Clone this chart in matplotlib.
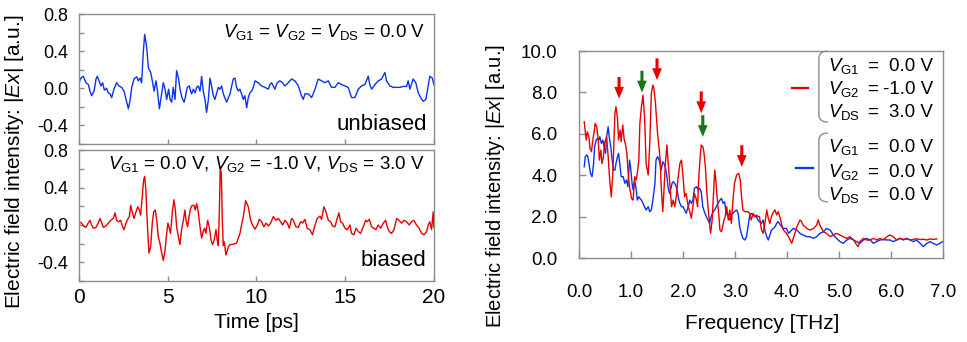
import numpy as np
import matplotlib
matplotlib.use('Agg')
import matplotlib.pyplot as plt
from matplotlib.path import Path
from matplotlib.patches import PathPatch

plt.rcParams['font.family'] = ['Liberation Sans', 'DejaVu Sans']
plt.rcParams['mathtext.fontset'] = 'custom'
plt.rcParams['mathtext.rm'] = 'Liberation Sans'
plt.rcParams['mathtext.it'] = 'Liberation Sans:italic'
plt.rcParams['mathtext.bf'] = 'Liberation Sans:bold'

# time-domain field, unbiased (V_G1 = V_G2 = V_DS = 0)
t_unbiased = [0.00, 0.11, 0.24, 0.39, 0.53, 0.62, 0.71, 0.85, 0.96, 1.03,
              1.13, 1.24, 1.33, 1.43, 1.56, 1.65, 1.75, 1.84, 1.97, 2.12,
              2.25, 2.40, 2.54, 2.65, 2.78, 2.87, 2.97, 3.10, 3.25, 3.34,
              3.44, 3.53, 3.62, 3.70, 3.81, 3.91, 4.04, 4.15, 4.23, 4.34,
              4.41, 4.53, 4.66, 4.75, 4.85, 4.94, 5.05, 5.13, 5.22, 5.31,
              5.41, 5.50, 5.62, 5.69, 5.80, 5.92, 5.99, 6.10, 6.22, 6.29,
              6.35, 6.44, 6.54, 6.63, 6.72, 6.82, 6.91, 7.00, 7.10, 7.19,
              7.29, 7.38, 7.47, 7.57, 7.66, 7.76, 7.85, 7.94, 8.04, 8.13,
              8.32, 8.51, 8.69, 8.79, 8.88, 8.98, 9.07, 9.16, 9.26, 9.35,
              9.45, 9.54, 9.63, 9.73, 9.82, 9.92, 10.10, 10.29, 10.48, 10.67,
              10.76, 10.85, 11.04, 11.17, 11.32, 11.47, 11.61, 11.79, 11.98, 12.17,
              12.36, 12.54, 12.64, 12.73, 12.92, 13.11, 13.30, 13.48, 13.67, 13.86,
              14.05, 14.23, 14.42, 14.61, 14.80, 14.99, 15.17, 15.36, 15.55, 15.74,
              15.92, 16.11, 16.30, 16.39, 16.49, 16.68, 16.86, 17.05, 17.24, 17.33,
              17.52, 17.71, 17.90, 18.08, 18.27, 18.46, 18.55, 18.65, 18.83, 18.98,
              19.12, 19.25, 19.40, 19.55, 19.68, 19.77, 19.91, 20.00]
e_unbiased = [0.06, 0.11, 0.13, 0.06, 0.04, -0.03, -0.08, -0.03, 0.10, 0.13,
              0.08, 0.025, 0.06, -0.02, 0.00, -0.05, -0.06, -0.10, -0.01, 0.06,
              0.025, 0.01, -0.03, -0.12, -0.22, -0.14, 0.01, 0.10, 0.125, 0.08,
              0.11, 0.06, 0.38, 0.58, 0.45, 0.22, 0.17, 0.06, -0.03, 0.08,
              -0.01, -0.22, -0.05, 0.06, -0.01, -0.12, -0.01, -0.12, -0.15, 0.01,
              -0.12, 0.19, 0.10, -0.01, -0.10, -0.15, -0.10, 0.01, 0.025, -0.03,
              -0.06, -0.01, -0.05, 0.01, 0.025, -0.03, 0.13, -0.03, -0.12, -0.26,
              -0.12, 0.11, 0.025, -0.08, -0.12, -0.05, 0.01, -0.01, 0.025, -0.06,
              -0.15, -0.06, 0.10, 0.11, 0.01, -0.03, -0.01, -0.06, -0.12, -0.08,
              -0.21, -0.10, -0.05, -0.03, 0.01, 0.08, 0.06, 0.025, 0.01, -0.01,
              0.04, 0.06, -0.01, 0.06, 0.08, 0.06, 0.025, 0.06, 0.10, 0.08,
              0.025, -0.08, -0.12, -0.06, -0.06, -0.10, -0.01, 0.10, 0.08, 0.06,
              0.08, 0.01, 0.01, 0.06, 0.04, 0.025, 0.01, -0.10, -0.10, -0.01,
              0.025, 0.04, 0.13, 0.04, -0.01, 0.04, 0.08, 0.10, 0.17, 0.08,
              0.025, 0.01, 0.01, 0.01, 0.02, 0.02, 0.08, -0.01, 0.10, 0.06,
              -0.05, -0.10, -0.14, -0.12, 0.025, 0.13, 0.11, 0.04]

# time-domain field, biased (V_G1 = 0, V_G2 = -1, V_DS = 3)
t_biased = [0.00, 0.15, 0.24, 0.39, 0.53, 0.62, 0.71, 0.81, 0.96, 1.09,
            1.18, 1.28, 1.37, 1.52, 1.65, 1.78, 1.93, 2.03, 2.12, 2.22,
            2.35, 2.44, 2.54, 2.65, 2.74, 2.84, 2.91, 3.00, 3.10, 3.21,
            3.31, 3.40, 3.47, 3.55, 3.64, 3.70, 3.77, 3.83, 3.89, 3.94,
            4.04, 4.13, 4.21, 4.30, 4.38, 4.47, 4.56, 4.66, 4.75, 4.85,
            4.94, 5.01, 5.09, 5.16, 5.26, 5.35, 5.43, 5.50, 5.60, 5.69,
            5.78, 5.88, 5.97, 6.03, 6.12, 6.20, 6.29, 6.38, 6.48, 6.55,
            6.63, 6.72, 6.82, 6.91, 7.00, 7.08, 7.15, 7.25, 7.34, 7.44,
            7.53, 7.62, 7.72, 7.79, 7.85, 7.91, 7.96, 8.02, 8.08, 8.13,
            8.19, 8.28, 8.36, 8.43, 8.51, 8.69, 8.88, 8.98, 9.07, 9.16,
            9.26, 9.39, 9.54, 9.67, 9.78, 9.92, 10.05, 10.16, 10.29, 10.42,
            10.54, 10.67, 10.80, 10.95, 11.10, 11.23, 11.36, 11.47, 11.61, 11.74,
            11.85, 11.98, 12.08, 12.23, 12.36, 12.49, 12.60, 12.73, 12.86, 13.01,
            13.16, 13.30, 13.43, 13.58, 13.67, 13.80, 13.92, 14.05, 14.18, 14.29,
            14.42, 14.55, 14.65, 14.74, 14.85, 14.99, 15.12, 15.27, 15.36, 15.49,
            15.61, 15.74, 15.87, 16.02, 16.15, 16.24, 16.36, 16.49, 16.62, 16.73,
            16.86, 17.00, 17.15, 17.28, 17.37, 17.48, 17.61, 17.75, 17.90, 18.03,
            18.18, 18.31, 18.46, 18.61, 18.74, 18.87, 19.02, 19.17, 19.31, 19.44,
            19.59, 19.68, 19.77, 19.87, 19.96, 20.00]
e_biased = [0.035, 0.02, -0.01, -0.025, 0.025, 0.05, 0.00, -0.035, -0.025, 0.025,
            0.07, 0.02, -0.025, -0.01, 0.02, 0.05, 0.07, 0.13, 0.05, 0.035,
            0.05, -0.01, -0.05, 0.02, 0.06, 0.09, 0.21, 0.14, 0.07, 0.14,
            0.195, 0.16, 0.105, 0.27, 0.48, 0.52, 0.37, 0.09, -0.125, -0.30,
            -0.23, 0.02, 0.14, 0.16, 0.05, -0.125, -0.195, -0.30, -0.38, -0.27,
            -0.09, 0.02, -0.035, -0.09, 0.14, 0.27, 0.16, -0.02, -0.125, -0.21,
            -0.05, 0.05, 0.16, 0.05, -0.02, 0.09, 0.18, 0.21, 0.21, 0.16,
            0.23, 0.14, -0.02, -0.14, -0.07, -0.035, -0.09, 0.05, -0.02, -0.16,
            -0.21, -0.16, -0.05, -0.16, -0.22, 0.14, 0.62, 0.55, 0.02, -0.22,
            -0.18, -0.32, -0.27, -0.23, -0.21, -0.205, -0.195, -0.14, -0.09, 0.00,
            0.09, 0.26, 0.195, 0.05, 0.00, -0.045, 0.00, 0.06, 0.035, -0.02,
            0.02, -0.01, 0.02, 0.09, 0.05, 0.07, 0.035, 0.00, 0.05, 0.02,
            -0.035, 0.07, 0.05, -0.02, -0.025, 0.035, 0.02, 0.06, -0.035, -0.05,
            -0.105, 0.00, 0.07, 0.095, 0.06, 0.195, 0.14, 0.05, 0.035, -0.01,
            -0.02, 0.07, 0.13, 0.035, 0.02, -0.035, -0.05, 0.00, -0.09, -0.105,
            -0.035, -0.07, -0.09, -0.02, 0.05, 0.035, 0.06, -0.02, -0.035, -0.05,
            0.00, -0.035, 0.02, 0.05, -0.02, -0.07, -0.09, -0.05, 0.07, 0.05,
            0.02, 0.05, 0.035, 0.00, 0.035, 0.05, 0.00, -0.035, -0.09, -0.105,
            -0.07, 0.00, 0.035, -0.05, 0.14, -0.025]

# spectra |Ex| vs frequency
f_red = [0.10, 0.12, 0.14, 0.16, 0.19, 0.21, 0.24, 0.26, 0.29, 0.31,
         0.34, 0.37, 0.39, 0.42, 0.44, 0.47, 0.49, 0.53, 0.56, 0.59,
         0.62, 0.65, 0.69, 0.71, 0.74, 0.76, 0.79, 0.81, 0.84, 0.87,
         0.89, 0.92, 0.94, 0.97, 1.01, 1.04, 1.07, 1.10, 1.12, 1.15,
         1.17, 1.20, 1.23, 1.26, 1.29, 1.33, 1.36, 1.39, 1.42, 1.44,
         1.47, 1.51, 1.53, 1.56, 1.58, 1.61, 1.63, 1.66, 1.69, 1.71,
         1.74, 1.78, 1.81, 1.84, 1.87, 1.90, 1.94, 1.97, 2.00, 2.03,
         2.06, 2.10, 2.13, 2.16, 2.19, 2.22, 2.26, 2.28, 2.30, 2.33,
         2.35, 2.38, 2.40, 2.43, 2.46, 2.48, 2.51, 2.53, 2.56, 2.58,
         2.61, 2.63, 2.66, 2.69, 2.71, 2.74, 2.76, 2.79, 2.81, 2.84,
         2.87, 2.90, 2.93, 2.96, 2.99, 3.03, 3.07, 3.10, 3.12, 3.15,
         3.19, 3.22, 3.25, 3.28, 3.31, 3.35, 3.38, 3.41, 3.44, 3.47,
         3.51, 3.54,
         3.58, 3.61, 3.64, 3.67, 3.70, 3.74, 3.77, 3.80, 3.83, 3.87,
         3.90, 3.93, 3.96, 3.99, 4.03, 4.06, 4.09, 4.12, 4.15, 4.19,
         4.22, 4.25, 4.28, 4.31, 4.38, 4.44, 4.51, 4.57, 4.60, 4.63,
         4.70, 4.76, 4.83, 4.89, 4.95, 5.02, 5.08, 5.15, 5.21, 5.28,
         5.34, 5.37, 5.40, 5.47, 5.53, 5.60, 5.66, 5.72, 5.79, 5.85,
         5.92, 5.98, 6.04, 6.11, 6.17, 6.24, 6.30, 6.37, 6.43, 6.49,
         6.56, 6.62, 6.69, 6.75, 6.81, 6.88]
s_red = [6.59, 6.10, 5.70, 6.10, 5.86, 5.30, 5.14, 5.62, 6.10, 6.51,
         6.34, 5.70, 4.73, 5.22, 4.57, 4.90, 5.54, 5.86, 4.90, 3.77,
         2.96, 4.09, 6.99, 7.31, 6.75, 5.70, 6.18, 5.62, 6.43, 5.70,
         5.54, 5.06, 4.25, 3.45, 2.88, 2.80, 3.93, 3.77, 4.09, 4.73,
         6.51, 7.31, 7.87, 6.83, 4.57, 4.01, 5.54, 7.95, 8.36, 8.20,
         7.47, 6.02, 5.54, 4.73, 3.45, 2.24, 3.12, 4.57, 5.46, 4.73,
         3.77, 2.48, 2.80, 2.48, 2.96, 3.77, 4.57, 4.73, 3.93, 2.96,
         3.12, 2.48, 2.24, 1.92, 2.48, 3.12, 2.80, 2.48, 3.77, 4.90,
         5.46, 5.38, 5.14, 4.41, 3.12, 2.48, 1.67, 1.19, 1.84, 2.80,
         4.25, 3.77, 2.80, 2.00, 1.35, 1.27, 1.51, 1.84, 2.00, 2.48,
         1.84, 2.32, 1.67, 2.80, 3.61, 4.01, 4.09, 3.77, 3.12, 2.32,
         2.24, 2.24, 2.24, 2.16, 1.84, 2.16, 2.00, 2.08, 2.00, 2.00,
         1.35, 1.19,
         1.76, 2.32, 1.92, 1.67, 2.00, 2.24, 2.32, 2.08, 2.24, 1.92,
         1.59, 1.35, 1.27, 1.19, 1.03, 0.87, 0.71, 0.95, 1.19, 1.51,
         1.67, 1.84, 1.76, 1.59, 1.43, 1.35, 1.43, 1.59, 1.84, 1.59,
         1.27, 1.19, 1.03, 1.11, 1.19, 1.11, 1.03, 0.95, 1.03, 0.87,
         0.63, 0.55, 0.79, 0.95, 0.87, 0.87, 0.95, 0.87, 0.95, 0.87,
         1.03, 1.11, 1.03, 0.87, 0.95, 0.90, 0.92, 0.88, 0.90, 0.93,
         0.89, 0.91, 0.87, 0.92, 0.90, 0.92]

f_blue = [0.10, 0.12, 0.15, 0.17, 0.20, 0.22, 0.25, 0.28, 0.30, 0.33,
          0.35, 0.38, 0.40, 0.43, 0.46, 0.48, 0.51, 0.53, 0.56, 0.58,
          0.61, 0.63, 0.66, 0.69, 0.71, 0.74, 0.76, 0.79, 0.81, 0.85,
          0.88, 0.91, 0.94, 0.97, 0.99, 1.02, 1.04, 1.07, 1.10, 1.12,
          1.15, 1.17, 1.20, 1.23, 1.26, 1.29, 1.33, 1.36, 1.39, 1.42,
          1.46, 1.48, 1.51, 1.54, 1.56, 1.58, 1.61, 1.63, 1.66, 1.69,
          1.71, 1.74, 1.76, 1.79, 1.81, 1.84, 1.87, 1.89, 1.92, 1.94,
          1.97, 2.00, 2.03, 2.06, 2.10, 2.13, 2.16, 2.19, 2.22, 2.26,
          2.29, 2.32, 2.35, 2.38, 2.42, 2.45, 2.48, 2.51, 2.54, 2.58,
          2.61, 2.64, 2.67, 2.71, 2.74, 2.77, 2.80, 2.83, 2.87, 2.90,
          2.93, 2.96, 2.99, 3.03, 3.06, 3.09, 3.12, 3.15, 3.19, 3.22,
          3.25, 3.28, 3.31, 3.35, 3.38, 3.41, 3.44, 3.47, 3.51, 3.54,
          3.58, 3.61, 3.64, 3.67, 3.70, 3.74, 3.77, 3.80, 3.83, 3.87,
          3.90, 3.93, 3.99, 4.03, 4.06, 4.09, 4.12, 4.19, 4.25, 4.31,
          4.38, 4.44, 4.51, 4.57, 4.63, 4.70, 4.76, 4.83, 4.89, 4.95,
          5.02, 5.08, 5.15, 5.21, 5.28, 5.34, 5.40, 5.47, 5.53, 5.60,
          5.66, 5.72, 5.79, 5.85, 5.92, 5.98, 6.04, 6.11, 6.17, 6.24,
          6.30, 6.37, 6.43, 6.49, 6.56, 6.62, 6.69, 6.75, 6.81, 6.88,
          6.94, 6.99]
s_blue = [4.41, 4.90, 4.98, 4.90, 4.41, 4.09, 3.93, 4.57, 5.38, 5.70,
          5.78, 5.70, 5.86, 5.54, 5.70, 5.38, 5.06, 5.86, 6.34, 5.86,
          5.38, 4.90, 4.25, 4.25, 4.57, 4.90, 5.06, 4.41, 3.93, 3.93,
          3.61, 3.77, 3.45, 4.73, 4.41, 3.61, 3.29, 3.77, 3.29, 2.80,
          2.96, 2.88, 2.80, 2.64, 2.48, 2.32, 2.48, 2.24, 2.32, 2.80,
          3.61, 4.73, 4.90, 4.73, 4.57, 4.25, 4.65, 4.57, 4.41, 3.93,
          3.45, 3.12, 3.29, 3.61, 3.69, 3.61, 3.45, 3.20, 2.80, 2.64,
          2.48, 2.48, 2.32, 2.16, 2.48, 2.80, 2.64, 2.80, 3.37, 3.45,
          3.29, 3.37, 3.20, 2.48, 2.16, 2.00, 1.84, 1.67, 2.00, 2.24,
          2.32, 2.48, 2.64, 2.80, 2.88, 2.64, 2.72, 2.16, 2.00, 1.84,
          2.08, 2.16, 2.24, 2.32, 2.16, 1.51, 1.19, 0.95, 0.87, 1.03,
          1.51, 2.00, 2.16, 2.08, 2.00, 2.00, 1.84, 1.76, 1.67, 1.84,
          1.27, 1.03, 0.87, 1.11, 1.35, 1.43, 1.51, 1.67, 1.76, 1.59,
          1.51, 1.43, 1.43, 1.19, 1.27, 1.35, 1.43, 1.35, 1.19, 1.11,
          1.03, 1.03, 0.95, 1.03, 1.19, 1.27, 1.43, 1.35, 1.11, 0.95,
          0.79, 0.71, 0.87, 0.95, 0.87, 0.79, 0.71, 0.87, 0.95, 0.87,
          0.71, 0.79, 0.87, 0.90, 0.87, 0.87, 0.79, 0.87, 0.95, 0.87,
          0.95, 0.87, 0.79, 0.87, 0.71, 0.55, 0.71, 0.79, 0.71, 0.63,
          0.71, 0.79]

# marked peaks (arrow tips)
red_arrow_f = [0.77, 1.50, 2.35, 3.13]
red_arrow_tip = [7.7, 8.6, 7.0, 4.4]
green_arrow_f = [1.21, 2.38]
green_arrow_tip = [8.0, 5.85]

biased_names = [r'$V_{\rm G1}$', r'$V_{\rm G2}$', r'$V_{\rm DS}$']
biased_vals = ['0.0 V', '-1.0 V', '3.0 V']
unbiased_vals = ['0.0 V', '0.0 V', '0.0 V']

RED = '#e60000'
BLUE = '#0a32f0'
GREEN = '#177517'
GREY = '#8c8c8c'


def style_axes(ax, ticklen):
    for sp in ax.spines.values():
        sp.set_color(GREY)
        sp.set_linewidth(1.0)
    ax.tick_params(direction='in', length=ticklen, width=1.0, color=GREY,
                   labelcolor='black')


fig = plt.figure(figsize=(9.67, 3.42), dpi=100)
ax_top = fig.add_axes([0.0817, 0.579, 0.367, 0.380])
ax_bot = fig.add_axes([0.0817, 0.178, 0.367, 0.383])
ax_fft = fig.add_axes([0.5988, 0.2456, 0.3764, 0.605])

# ---- time traces
yt = np.round(np.arange(-0.6, 0.81, 0.2), 1)
ylabels = ['%.1f' % v if round(v / 0.4, 6) % 1 == 0 else '' for v in yt]
ylabels = [l.replace('-0.0', '0.0') for l in ylabels]

for ax, t, e, c in [(ax_top, t_unbiased, e_unbiased, BLUE),
                    (ax_bot, t_biased, e_biased, RED)]:
    ax.plot(t, e, color=c, lw=1.0)
    ax.set_xlim(0, 20)
    ax.set_ylim(-0.6, 0.8)
    ax.set_xticks([0, 5, 10, 15, 20])
    ax.set_yticks(yt)
    ax.set_yticklabels(ylabels)
    style_axes(ax, 3.5)
    ax.tick_params(axis='y', labelsize=13, pad=8)
    ax.tick_params(axis='x', labelsize=15, pad=5)

ax_top.tick_params(axis='x', labelbottom=False)

ax_top.text(0.975, 0.823, r'$V_{\rm G1}$ = $V_{\rm G2}$ = $V_{\rm DS}$ = 0.0 V',
            transform=ax_top.transAxes, ha='right', va='baseline', fontsize=13.5)
ax_top.text(0.98, 0.108, 'unbiased', transform=ax_top.transAxes,
            ha='right', va='baseline', fontsize=16)
ax_bot.text(0.975, 0.853,
            r'$V_{\rm G1}$ = 0.0 V, $V_{\rm G2}$ = -1.0 V, $V_{\rm DS}$ = 3.0 V',
            transform=ax_bot.transAxes, ha='right', va='baseline', fontsize=13.5)
ax_bot.text(0.98, 0.117, 'biased', transform=ax_bot.transAxes,
            ha='right', va='baseline', fontsize=16)

fig.text(0.265, 0.058, 'Time [ps]', ha='center', va='center', fontsize=15)
fig.text(0.0145, 0.526, r'Electric field intensity: $|Ex|$ [a.u.]',
         rotation=90, ha='center', va='center', fontsize=15)

# ---- spectra
ax_fft.plot(f_blue, s_blue, color=BLUE, lw=1.0)
ax_fft.plot(f_red, s_red, color=RED, lw=1.0)
ax_fft.set_xlim(0, 7)
ax_fft.set_ylim(0, 10)
ax_fft.set_xticks(np.arange(0, 7.1, 1.0))
ax_fft.set_yticks(np.arange(0, 10.1, 2.0))
ax_fft.xaxis.set_major_formatter(plt.FormatStrFormatter('%.1f'))
ax_fft.yaxis.set_major_formatter(plt.FormatStrFormatter('%.1f'))
style_axes(ax_fft, 5)
ax_fft.tick_params(axis='x', labelsize=13.5, pad=19)
ax_fft.tick_params(axis='y', labelsize=13.5, pad=15.5)

for fs, tips, col in [(red_arrow_f, red_arrow_tip, RED),
                      (green_arrow_f, green_arrow_tip, GREEN)]:
    for f, tip in zip(fs, tips):
        ax_fft.annotate('', xy=(f, tip), xytext=(f, tip + 1.05),
                        arrowprops=dict(arrowstyle='simple,head_length=0.85,'
                                        'head_width=0.7,tail_width=0.22',
                                        color=col, lw=0, shrinkA=0, shrinkB=0))

fig.text(0.788, 0.053, 'Frequency [THz]', ha='center', va='center', fontsize=15)
fig.text(0.512, 0.456, r'Electric field intensity: $|Ex|$ [a.u.]',
         rotation=90, ha='center', va='center', fontsize=14.5)


def brace(ax, x0, x1, ytop, ybot, hook=0.035):
    verts = [(x1, ytop), (x0, ytop), (x0, ytop - hook), (x0, ybot + hook),
             (x0, ybot), (x1, ybot)]
    codes = [Path.MOVETO, Path.CURVE3, Path.CURVE3, Path.LINETO,
             Path.CURVE3, Path.CURVE3]
    ax.add_patch(PathPatch(Path(verts, codes), fill=False, edgecolor=GREY,
                           lw=1.0, transform=ax.transAxes, clip_on=False))


legend_rows = [(RED, biased_vals, [0.905, 0.792, 0.680], (0.585, 0.629), 0.821,
                (1.0, 0.657)),
               (BLUE, unbiased_vals, [0.511, 0.393, 0.280], (0.596, 0.643), 0.435,
                (0.604, 0.271))]
for col, vals, ys, (lx0, lx1), ly, (bt, bb) in legend_rows:
    ax_fft.plot([lx0, lx1], [ly, ly], color=col, lw=1.6,
                transform=ax_fft.transAxes, clip_on=False)
    brace(ax_fft, 0.659, 0.684, bt, bb)
    for name, val, y in zip(biased_names, vals, ys):
        ax_fft.text(0.684, y, name, transform=ax_fft.transAxes,
                    ha='left', va='baseline', fontsize=13.5)
        ax_fft.text(0.806, y, '=', transform=ax_fft.transAxes,
                    ha='center', va='baseline', fontsize=13.5)
        ax_fft.text(0.973, y, val, transform=ax_fft.transAxes,
                    ha='right', va='baseline', fontsize=13.5)

fig.savefig('out.png', dpi=100)
